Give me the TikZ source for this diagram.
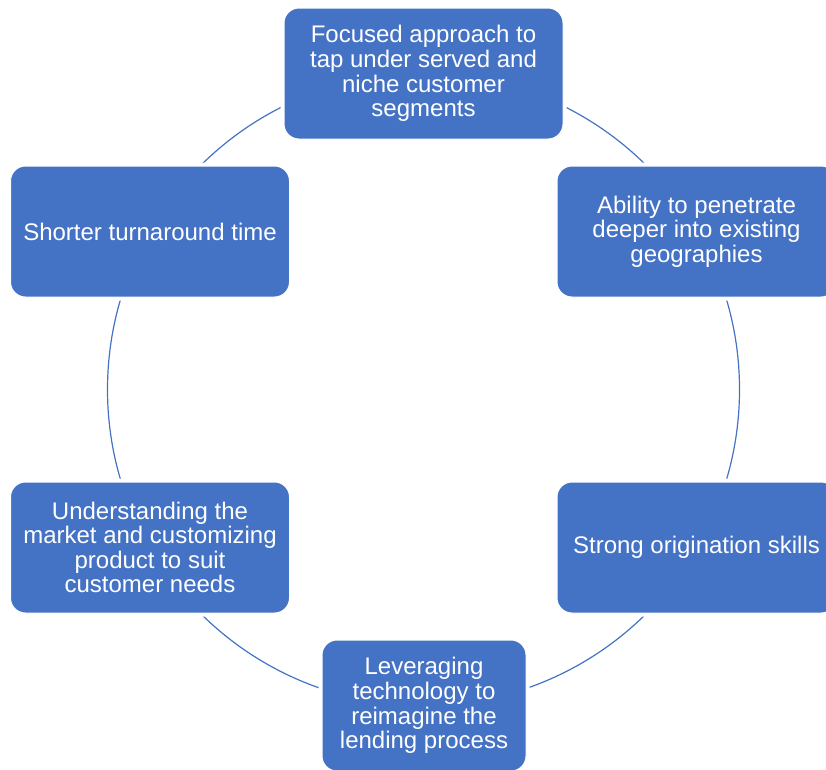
\documentclass[tikz,border=0pt]{standalone}
\usepackage{fontspec}
\setmainfont{Liberation Sans}
\definecolor{boxblue}{HTML}{4472C4}
\begin{document}
\begin{tikzpicture}[x=1pt,y=-1pt,
  cbox/.style={rectangle, rounded corners=15pt, fill=boxblue, draw=white, line width=1pt,
    text=white, align=center, minimum width=279pt, minimum height=131pt, inner sep=0pt,
    font=\fontsize{24}{24.6}\selectfont,
    preaction={draw=white, line width=7pt}},
  ring/.style={draw=boxblue, line width=1.2pt}]
\useasboundingbox (0,0) rectangle (826,769);
\clip (0,0) rectangle (826,769);
\coordinate (c) at (423.5,389.5);
\draw[ring] (c) circle [radius=316pt];
\node[cbox] (n1) at (423.5,73.5) {Focused approach to\\tap under served and\\niche customer\\segments};
\node[cbox] (n2) at (696.5,231.5) {Ability to penetrate\\deeper into existing\\geographies};
\node[cbox] (n3) at (696.5,547.5) {Strong origination skills};
\node[cbox, minimum width=204pt] (n4) at (424,705.5) {Leveraging\\technology to\\reimagine the\\lending process};
\node[cbox] (n5) at (150,547.5) {Understanding the\\market and customizing\\product to suit\\customer needs};
\node[cbox] (n6) at (150,231.5) {Shorter turnaround time};
\end{tikzpicture}
\end{document}
